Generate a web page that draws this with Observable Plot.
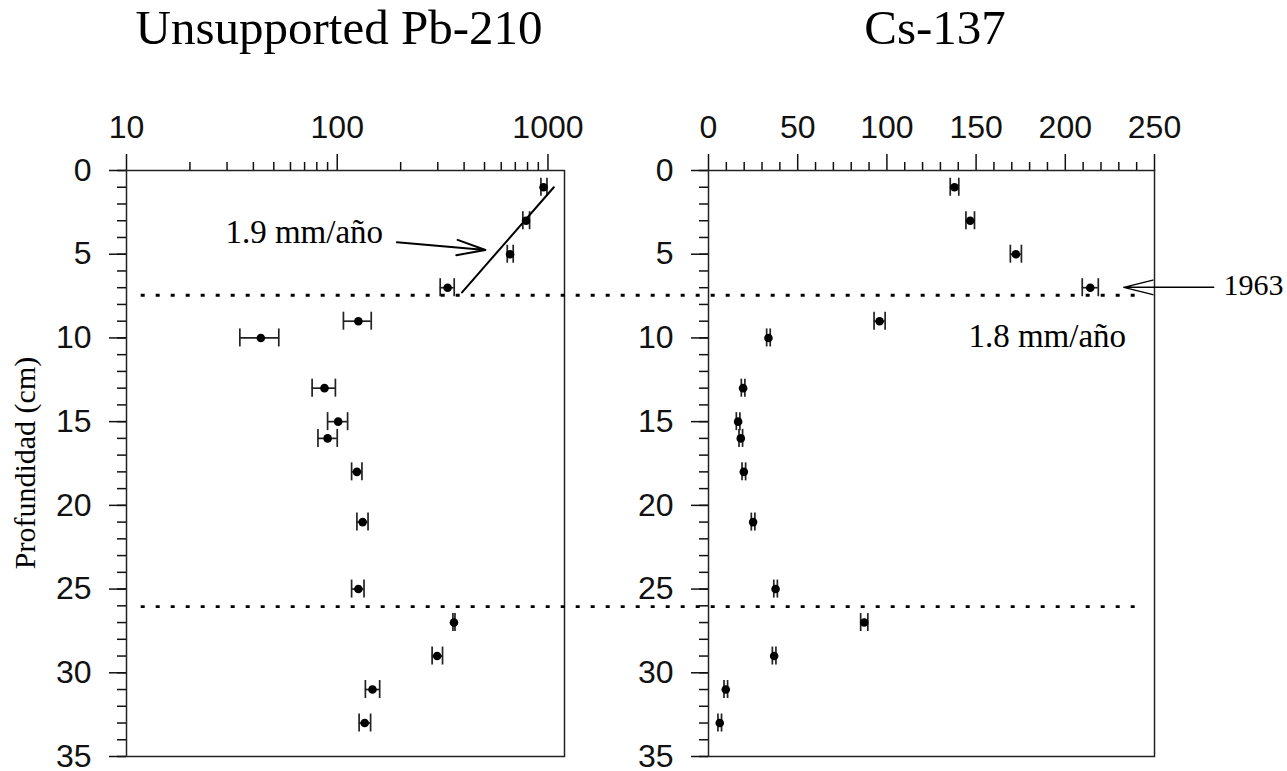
<!DOCTYPE html>
<html>
<head>
<meta charset="utf-8">
<script src="https://cdn.jsdelivr.net/npm/d3@7"></script>
<script src="https://cdn.jsdelivr.net/npm/@observablehq/plot@0.6"></script>
<style>
  body { margin: 0; background: white; }
  #wrap { position: relative; width: 1287px; height: 771px; overflow: hidden; background: white; }
  #wrap svg { position: absolute; left: 0; top: 0; }
  .title { position: absolute; top: 3px; width: 600px; text-align: center; font-family: "Liberation Serif", serif; font-size: 49px; line-height: 1; white-space: nowrap; color: #000; }
  .ylab { position: absolute; left: -125px; top: 448px; width: 300px; height: 30px; line-height: 30px; text-align: center; font-family: "Liberation Serif", serif; font-size: 30px; transform: rotate(-90deg); transform-origin: 150px 15px; white-space: nowrap; }
</style>
</head>
<body>
<div id="wrap">
  <div class="title" style="left:39px">Unsupported Pb-210</div>
  <div class="title" style="left:635px">Cs-137</div>
  <div class="ylab">Profundidad (cm)</div>
</div>
<script>
// ---- Data ----
const depth = [1, 3, 5, 7, 9, 10, 13, 15, 16, 18, 21, 25, 27, 29, 31, 33];
const pbValue = [953, 787, 661, 334, 126, 43.4, 87, 101, 90, 124, 132, 126, 358, 298, 147, 135];
const pbLow   = [926, 760, 641, 308, 107, 34.5, 76, 90, 81, 117, 124, 117, 354, 282, 136, 127];
const pbHigh  = [989, 818, 684, 359, 145, 52.8, 98, 112, 100, 131, 140, 134, 362, 316, 159, 144];
const csValue = [137.9, 146.7, 172.3, 214, 95.9, 33.6, 19.4, 16.6, 18.1, 19.8, 25.0, 37.6, 87.3, 36.8, 9.7, 6.3];
const csErr   = [2.4, 2.4, 3.1, 4.5, 3.1, 1.0, 1.0, 1.0, 1.0, 1.0, 1.0, 1.0, 2.0, 1.0, 1.0, 1.0];

// ticks
const pbMajorTicks = [10, 100, 1000];
const pbMinorTicks = [20, 30, 40, 50, 60, 70, 80, 90, 200, 300, 400, 500, 600, 700, 800, 900];
const csMajorTicks = [0, 50, 100, 150, 200, 250];
const csMinorTicks = [10, 20, 30, 40, 60, 70, 80, 90, 110, 120, 130, 140, 160, 170, 180, 190, 210, 220, 230, 240];
const depthMajorTicks = [0, 5, 10, 15, 20, 25, 30, 35];
const depthMinorTicks = d3.range(0, 36);

// annotations
const horizonDepths = [7.45, 26.05];
const horizonSpanCs = [-318, 242];           // in Cs-137 units, spanning both panels
const pbFitX = [391, 1066];
const pbFitDepth = [7.28, 1.0];
const pbArrow = [{x1: 192, y1: 4.29, x2: 505, y2: 4.75}];
const pbLabel = [{x: 165, y: 3.72, text: "1.9 mm/año"}];
const csLabel = [{x: 145.7, y: 9.92, text: "1.8 mm/año"}];
const csArrow = [{x1: 283.2, y1: 6.98, x2: 232.8, y2: 6.98}];
const csYearLabel = [{x: 288.7, y: 6.88, text: "1963"}];

// ---- Build tables ----
const pb = depth.map((d, i) => ({depth: d, v: pbValue[i], lo: pbLow[i], hi: pbHigh[i]}));
const cs = depth.map((d, i) => ({depth: d, v: csValue[i], lo: csValue[i] - csErr[i], hi: csValue[i] + csErr[i]}));
const pbFit = pbFitX.map((x, i) => ({x, y: pbFitDepth[i]}));

const W = 1287, H = 771;
const sans = "Liberation Sans, Arial, Helvetica, sans-serif";
const serif = "Liberation Serif, Times New Roman, serif";

function errorMarks(data) {
  return [
    Plot.ruleY(data, {y: "depth", x1: "lo", x2: "hi", stroke: "#222", strokeWidth: 1.7}),
    Plot.ruleX(data, {x: "lo", y1: "depth", y2: "depth", insetTop: -9, insetBottom: -9, stroke: "#222", strokeWidth: 1.7}),
    Plot.ruleX(data, {x: "hi", y1: "depth", y2: "depth", insetTop: -9, insetBottom: -9, stroke: "#222", strokeWidth: 1.7}),
    Plot.dot(data, {x: "v", y: "depth", r: 4.3, fill: "black", stroke: "none"})
  ];
}

function axisMarks(xMajor, xMinor) {
  return [
    Plot.axisX({anchor: "top", ticks: xMajor, tickSize: 17, tickPadding: 16, fontSize: 32, fontFamily: sans, tickFormat: d => String(d), label: null, strokeWidth: 1.5, color: "#111"}),
    Plot.axisX({anchor: "top", ticks: xMinor, tickSize: 9, tickFormat: () => "", label: null, strokeWidth: 1.5, color: "#111"}),
    Plot.axisY({anchor: "left", ticks: depthMajorTicks, tickSize: 17, tickPadding: 18, fontSize: 32, fontFamily: sans, tickFormat: d => String(d), label: null, strokeWidth: 1.5, color: "#111"}),
    Plot.axisY({anchor: "left", ticks: depthMinorTicks, tickSize: 9, tickFormat: () => "", label: null, strokeWidth: 1.5, color: "#111"}),
    Plot.frame({stroke: "#222", strokeWidth: 1.5})
  ];
}

const left = Plot.plot({
  width: W, height: H,
  marginTop: 170, marginBottom: 15, marginLeft: 126, marginRight: W - 564,
  style: {background: "transparent", fontFamily: sans, overflow: "visible"},
  x: {type: "log", domain: [10, 1198]},
  y: {domain: [0, 35], reverse: true},
  marks: [
    ...axisMarks(pbMajorTicks, pbMinorTicks),
    ...errorMarks(pb),
    Plot.line(pbFit, {x: "x", y: "y", stroke: "black", strokeWidth: 2}),
    Plot.arrow(pbArrow, {x1: "x1", y1: "y1", x2: "x2", y2: "y2", headLength: 45, headAngle: 30, stroke: "black", strokeWidth: 2}),
    Plot.text(pbLabel, {x: "x", y: "y", text: "text", textAnchor: "end", lineAnchor: "middle", fontFamily: serif, fontSize: 33, fill: "black"})
  ]
});

const right = Plot.plot({
  width: W, height: H,
  marginTop: 170, marginBottom: 15, marginLeft: 708, marginRight: W - 1154,
  style: {background: "transparent", fontFamily: sans, overflow: "visible"},
  x: {domain: [0, 250]},
  y: {domain: [0, 35], reverse: true},
  marks: [
    ...axisMarks(csMajorTicks, csMinorTicks),
    ...errorMarks(cs),
    Plot.ruleY(horizonDepths, {y: d => d, x1: horizonSpanCs[0], x2: horizonSpanCs[1], stroke: "black", strokeWidth: 2.8, strokeDasharray: "4,11"}),
    Plot.arrow(csArrow, {x1: "x1", y1: "y1", x2: "x2", y2: "y2", headLength: 45, headAngle: 28, stroke: "black", strokeWidth: 1.5}),
    Plot.text(csLabel, {x: "x", y: "y", text: "text", textAnchor: "start", lineAnchor: "middle", fontFamily: serif, fontSize: 33, fill: "black"}),
    Plot.text(csYearLabel, {x: "x", y: "y", text: "text", textAnchor: "start", lineAnchor: "middle", fontFamily: serif, fontSize: 30, fill: "black"})
  ]
});

const wrap = document.getElementById("wrap");
wrap.appendChild(left);
wrap.appendChild(right);
</script>
</body>
</html>
